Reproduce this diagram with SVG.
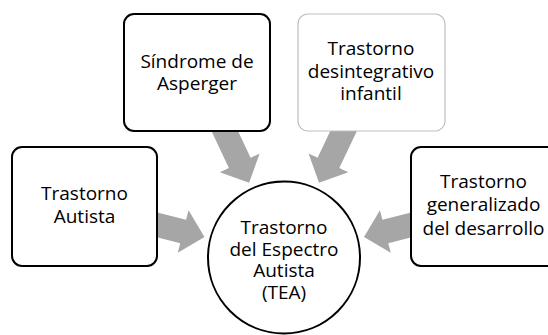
<svg xmlns="http://www.w3.org/2000/svg" width="548" height="335" viewBox="0 0 548 335">
<defs>
<style>
.box{fill:#fff;stroke:#000;stroke-width:2}
.box.light{stroke:#bfbfbf;stroke-width:1.2}
.arr{fill:#a6a6a6}
text{font-family:"Open Sans","Liberation Sans",sans-serif;font-size:19px;fill:#000;text-anchor:middle}
</style>
<polygon id="blk" points="-64,-12 -22,-12 -22,-22 0,0 -22,22 -22,12 -64,12"/>
</defs>
<rect width="548" height="335" fill="#fff"/>
<g id="connectors" class="arr">
<use href="#blk" transform="translate(249.1,182.8) rotate(64.8)"/>
<use href="#blk" transform="translate(319,182.8) rotate(115.4)"/>
<use href="#blk" transform="translate(204.5,236.9) rotate(14.2)"/>
<use href="#blk" transform="translate(364,236.9) rotate(165.8)"/>
</g>
<g id="asperger">
<rect class="box" x="124" y="14" width="146" height="117" rx="10"/>
<text x="197" y="68">Síndrome de</text>
<text x="197" y="90">Asperger</text>
</g>
<g id="desintegrativo">
<rect class="box light" x="298" y="14" width="147" height="117" rx="10"/>
<text x="371" y="55">Trastorno</text>
<text x="371" y="77.5">desintegrativo</text>
<text x="371" y="100">infantil</text>
</g>
<g id="autista">
<rect class="box" x="12" y="147" width="145" height="119" rx="10"/>
<text x="84.5" y="200">Trastorno</text>
<text x="84.5" y="223">Autista</text>
</g>
<g id="generalizado">
<rect class="box" x="411" y="147" width="150" height="119" rx="10"/>
<text x="483.5" y="188">Trastorno</text>
<text x="483.5" y="211">generalizado</text>
<text x="483.5" y="235">del desarrollo</text>
</g>
<g id="tea">
<circle class="box" cx="284" cy="257.5" r="76"/>
<text x="284" y="234">Trastorno</text>
<text x="284" y="255.5">del Espectro</text>
<text x="284" y="277">Autista</text>
<text x="284" y="298.5">(TEA)</text>
</g>
</svg>
